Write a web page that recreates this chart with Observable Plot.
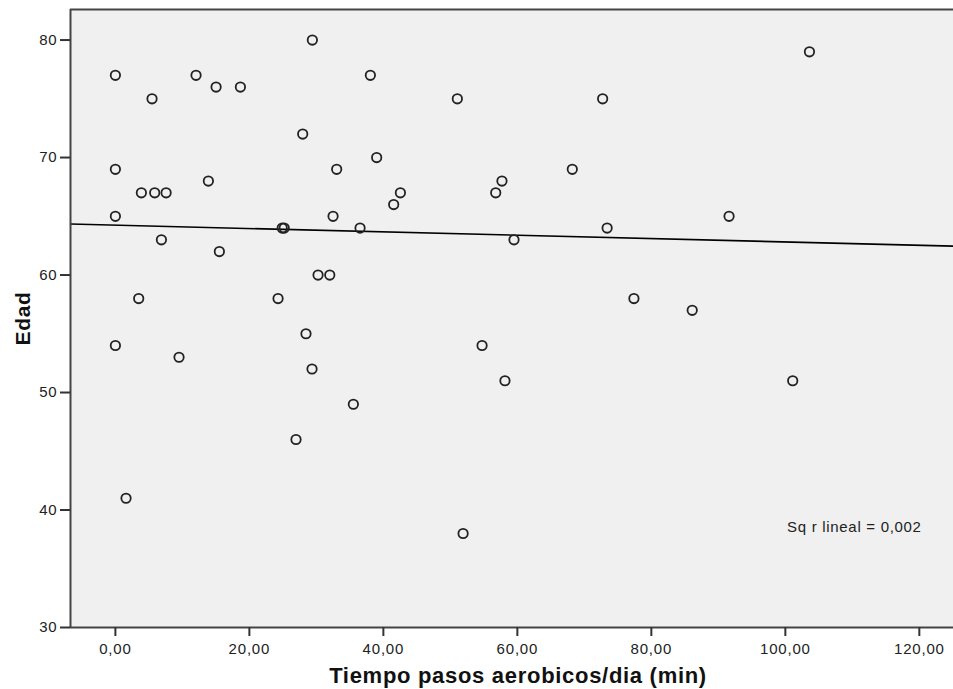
<!DOCTYPE html>
<html>
<head>
<meta charset="utf-8">
<script src="https://cdn.jsdelivr.net/npm/d3@7"></script>
<script src="https://cdn.jsdelivr.net/npm/@observablehq/plot@0.6"></script>
<style>
  html, body { margin: 0; padding: 0; background: #fff; }
  #chart svg { display: block; }
</style>
</head>
<body>
<div id="chart"></div>
<script>
// Tiempo pasos aerobicos/dia (min)
const tiempo = [
  0, 5.47, 12.04, 15.03, 18.66, 29.4, 27.96, 0, 13.88, 3.88,
  5.87, 7.57, 0, 24.9, 25.2, 6.87, 15.52, 3.48, 24.28, 28.45,
  0, 9.5, 29.35, 26.96, 1.59, 30.25, 32.0, 38.06, 51.04, 72.73,
  39.0, 33.03, 68.2, 57.7, 56.77, 42.54, 41.54, 32.49, 36.52, 73.4,
  59.5, 35.52, 54.73, 58.15, 51.9, 103.6, 91.6, 77.4, 86.1, 101.1
];
// Edad
const edad = [
  77, 75, 77, 76, 76, 80, 72, 69, 68, 67,
  67, 67, 65, 64, 64, 63, 62, 58, 58, 55,
  54, 53, 52, 46, 41, 60, 60, 77, 75, 75,
  70, 69, 69, 68, 67, 67, 66, 65, 64, 64,
  63, 49, 54, 51, 38, 79, 65, 58, 57, 51
];
const xTicks = [0, 20, 40, 60, 80, 100, 120];
const yTicks = [30, 40, 50, 60, 70, 80];
const xTitle = "Tiempo pasos aerobicos/dia (min)";
const yTitle = "Edad";
const fitNote = "Sq r lineal = 0,002";
const xDomain = [-6.7, 125.1];
const yDomain = [30, 82.6];
const noteX = 110.3, noteY = 38.5;

const data = tiempo.map((x, i) => ({x, y: edad[i]}));
const mx = d3.mean(tiempo), my = d3.mean(edad);
const slope = d3.sum(data, d => (d.x - mx) * (d.y - my)) / d3.sum(data, d => (d.x - mx) ** 2);
const intercept = my - slope * mx;
const fit = xDomain.map(x => ({x, y: intercept + slope * x}));
const fmt = d => d.toFixed(2).replace(".", ",");

const plot = Plot.plot({
  width: 953,
  height: 689,
  marginLeft: 70,
  marginRight: 0,
  marginTop: 9,
  marginBottom: 62,
  x: {domain: xDomain},
  y: {domain: yDomain},
  style: {fontFamily: "'Liberation Sans', Arial, sans-serif", background: "#fff", color: "#222"},
  marks: [
    Plot.frame({fill: "#f0f0f0", stroke: "none"}),
    Plot.line(fit, {x: "x", y: "y", stroke: "#000", strokeWidth: 1.6}),
    Plot.dot(data, {x: "x", y: "y", r: 4.7, stroke: "#222", strokeWidth: 1.8, fill: "none"}),
    Plot.ruleX([xDomain[0]], {stroke: "#444", strokeWidth: 2}),
    Plot.ruleY(yDomain, {stroke: "#444", strokeWidth: 2}),
    Plot.axisX({ticks: xTicks, tickFormat: fmt, tickSize: 9, tickPadding: 7, fontSize: 15,
                stroke: "#333", strokeWidth: 2, fill: "#222", label: null}),
    Plot.axisY({ticks: yTicks, tickSize: 10, tickPadding: 3, fontSize: 15,
                stroke: "#333", strokeWidth: 2, fill: "#222", label: null}),
    Plot.text([fitNote], {x: () => noteX, y: () => noteY, text: d => d, fontSize: 15,
                          textAnchor: "middle", lineAnchor: "middle", fill: "#222"}),
    Plot.text([xTitle], {frameAnchor: "bottom", text: d => d, textAnchor: "middle", lineAnchor: "bottom",
                         dx: 6, dy: 55, fontSize: 22, fontWeight: "bold", fill: "#111"}),
    Plot.text([yTitle], {frameAnchor: "left", text: d => d, textAnchor: "middle", lineAnchor: "bottom",
                         rotate: -90, dx: -41, fontSize: 21, fontWeight: "bold", fill: "#111"})
  ]
});

d3.select(plot).selectAll('g[aria-label="x-axis tick label"] text, g[aria-label="y-axis tick label"] text')
  .style("letter-spacing", "0.8px");
d3.select(plot).selectAll('g[aria-label="text"] text').style("letter-spacing", "0.7px");
document.getElementById("chart").appendChild(plot);
</script>
</body>
</html>
